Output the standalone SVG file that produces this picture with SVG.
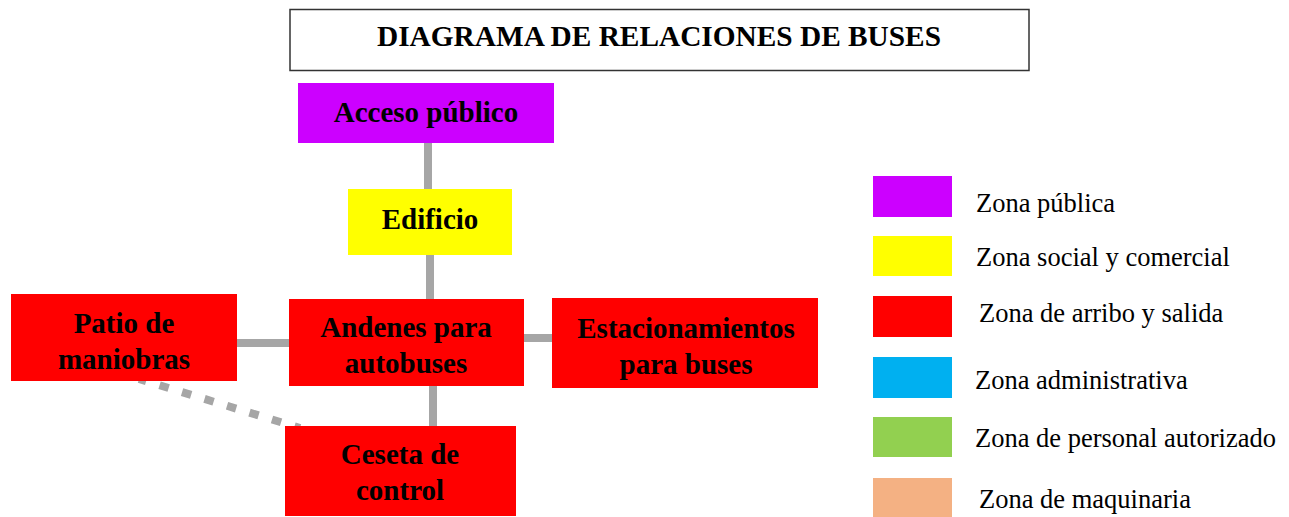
<svg xmlns="http://www.w3.org/2000/svg" width="1289" height="517" viewBox="0 0 1289 517">
<style>
.node{stroke:none}
.lbl{font-family:"Liberation Serif","Times New Roman",serif;font-weight:bold;font-size:29px;fill:#000;text-anchor:middle}
.leg{font-family:"Liberation Serif","Times New Roman",serif;font-size:26.5px;fill:#000}
.conn{stroke:#A6A6A6;stroke-width:8;fill:none}
.pub{fill:#CC00FF}.soc{fill:#FFFF00}.red{fill:#FF0000}.adm{fill:#00B0F0}.per{fill:#92D050}.maq{fill:#F4B183}
</style>
<rect width="1289" height="517" fill="#fff"/>
<g id="title">
<rect x="290" y="9.5" width="739" height="61" fill="#fff" stroke="#333" stroke-width="1.5"/>
<text class="lbl" x="659" y="46" textLength="564" lengthAdjust="spacingAndGlyphs">DIAGRAMA DE RELACIONES DE BUSES</text>
</g>
<g id="connectors">
<line class="conn" x1="428" y1="140" x2="428" y2="192"/>
<line class="conn" x1="430" y1="252" x2="430" y2="302"/>
<line class="conn" x1="234" y1="343" x2="292" y2="343"/>
<line class="conn" x1="520" y1="338" x2="555" y2="338"/>
<line class="conn" x1="433" y1="383" x2="433" y2="429"/>
<line class="conn" x1="139" y1="379" x2="300" y2="428" stroke-width="9.5" stroke-dasharray="9.5 14" stroke-dashoffset="2"/>
</g>
<g id="acceso">
<rect class="node pub" x="298" y="83" width="256" height="60"/>
<text class="lbl" x="426" y="122">Acceso público</text>
</g>
<g id="edificio">
<rect class="node soc" x="348" y="189" width="164" height="66"/>
<text class="lbl" x="430" y="229">Edificio</text>
</g>
<g id="patio">
<rect class="node red" x="11" y="294" width="226" height="87"/>
<text class="lbl" x="124" y="333">Patio de</text>
<text class="lbl" x="124" y="369">maniobras</text>
</g>
<g id="andenes">
<rect class="node red" x="289" y="299" width="235" height="87"/>
<text class="lbl" x="406" y="337">Andenes para</text>
<text class="lbl" x="406" y="373">autobuses</text>
</g>
<g id="estacionamientos">
<rect class="node red" x="552" y="298" width="266" height="90"/>
<text class="lbl" x="686" y="338">Estacionamientos</text>
<text class="lbl" x="686" y="374">para buses</text>
</g>
<g id="ceseta">
<rect class="node red" x="285" y="426" width="231" height="90"/>
<text class="lbl" x="400" y="464">Ceseta de</text>
<text class="lbl" x="400" y="500">control</text>
</g>
<g id="legend">
<rect class="pub" x="873" y="176" width="79" height="41"/>
<text class="leg" x="976" y="212">Zona pública</text>
<rect class="soc" x="873" y="236" width="79" height="40"/>
<text class="leg" x="976" y="266">Zona social y comercial</text>
<rect class="red" x="873" y="296" width="79" height="41"/>
<text class="leg" x="979" y="322">Zona de arribo y salida</text>
<rect class="adm" x="873" y="357" width="79" height="41"/>
<text class="leg" x="975" y="389">Zona administrativa</text>
<rect class="per" x="873" y="417" width="79" height="40"/>
<text class="leg" x="975" y="447">Zona de personal autorizado</text>
<rect class="maq" x="873" y="478" width="79" height="40"/>
<text class="leg" x="979" y="508">Zona de maquinaria</text>
</g>
</svg>
